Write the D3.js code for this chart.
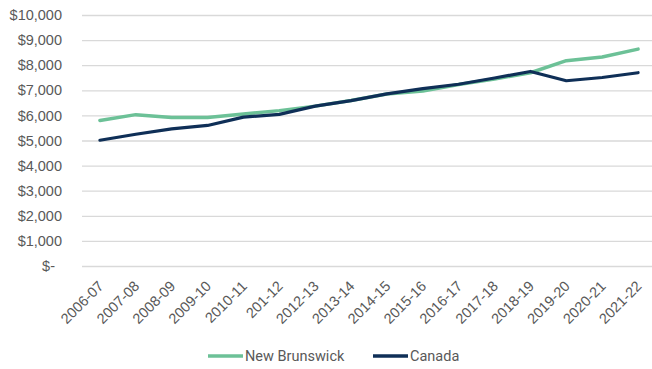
<!DOCTYPE html>
<html><head><meta charset="utf-8">
<script src="https://cdn.jsdelivr.net/npm/d3@7"></script>
<style>body{margin:0;background:#fff}svg{display:block;font-family:Roboto,"Noto Sans",sans-serif}</style>
</head><body><svg id="c" width="652" height="369"></svg>
<script>
const categories = ["2006-07","2007-08","2008-09","2009-10","2010-11","201-12","2012-13","2013-14","2014-15","2015-16","2016-17","2017-18","2018-19","2019-20","2020-21","2021-22"];
const newBrunswick = [5800,6030,5920,5920,6060,6190,6370,6590,6850,6970,7230,7450,7700,8180,8330,8640];
const canada = [5010,5250,5460,5600,5930,6040,6370,6590,6860,7070,7240,7490,7750,7380,7510,7700];
const yTicks = [0,1000,2000,3000,4000,5000,6000,7000,8000,9000,10000];
const seriesNames = ["New Brunswick","Canada"];
const colors = ["#6cc197","#0f2f57"];

const svg = d3.select("#c");
const mLeft = 82, mRight = 656, mTop = 15, mBottom = 266;
const x = d3.scalePoint().domain(categories).range([mLeft, mRight]).padding(0.5);
const y = d3.scaleLinear().domain([0,10000]).range([mBottom, mTop]);

const fmt = d3.format(",");
const yAxis = svg.append("g").attr("transform", `translate(${mLeft},0)`)
  .call(d3.axisLeft(y).tickValues(yTicks).tickSize(-(652-mLeft)).tickFormat(d => d === 0 ? "$-" : "$" + fmt(d)));
yAxis.select(".domain").remove();
yAxis.selectAll(".tick line").attr("stroke","#d9d9d9").attr("stroke-width",1.3);
yAxis.selectAll(".tick text").attr("fill","#595959").attr("font-size","14.5px").attr("x",-20)
  .filter(d => d === 0).attr("x",-27);

const xAxis = svg.append("g").attr("transform", `translate(0,${mBottom})`)
  .call(d3.axisBottom(x).tickSize(0));
xAxis.select(".domain").remove();
xAxis.selectAll(".tick text").attr("fill","#595959").attr("font-size","14.5px")
  .attr("text-anchor","end").attr("dy",null).attr("y",null).attr("x",null)
  .attr("transform","translate(4,21) rotate(-45)");

const line = d3.line().x((d,i) => x(categories[i])).y(d => y(d));
[newBrunswick, canada].forEach((s,i) => {
  svg.append("path").datum(s).attr("d", line).attr("fill","none")
    .attr("stroke", colors[i]).attr("stroke-width", i===0 ? 3.5 : 3.2)
    .attr("stroke-linejoin","round").attr("stroke-linecap","round");
});

const leg = svg.append("g");
const legX = [208, 373];
seriesNames.forEach((n,i) => {
  leg.append("line").attr("x1",legX[i]).attr("x2",legX[i]+35).attr("y1",356).attr("y2",356)
    .attr("stroke",colors[i]).attr("stroke-width",3.5);
  leg.append("text").attr("x",legX[i]+37).attr("y",361).attr("fill","#595959")
    .attr("font-size","14.5px").text(n);
});
</script></body></html>
